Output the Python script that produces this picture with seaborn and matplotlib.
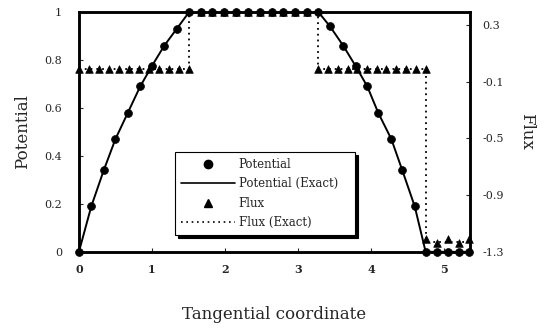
import numpy as np
import matplotlib
matplotlib.use('Agg')
import matplotlib.pyplot as plt
from matplotlib.lines import Line2D
import seaborn as sns

# potential nodes (tangential coordinate, value)
pot_x = [0.0, 0.17, 0.34, 0.50, 0.67, 0.84, 1.00, 1.17, 1.34, 1.51,
         1.67, 1.83, 1.99, 2.15, 2.31, 2.48, 2.64, 2.80, 2.96, 3.12, 3.28,
         3.44, 3.62, 3.79, 3.95, 4.10, 4.28, 4.43, 4.60, 4.75,
         4.90, 5.06, 5.21, 5.35]
pot_y = [0.0, 0.19, 0.34, 0.47, 0.58, 0.69, 0.775, 0.86, 0.93, 1.0,
         1.0, 1.0, 1.0, 1.0, 1.0, 1.0, 1.0, 1.0, 1.0, 1.0, 1.0,
         0.94, 0.86, 0.775, 0.69, 0.58, 0.47, 0.34, 0.19, 0.0,
         0.0, 0.0, 0.0, 0.0]

# flux nodes
flux_x = [0.0, 0.14, 0.27, 0.41, 0.55, 0.69, 0.82, 0.96, 1.10, 1.24, 1.37, 1.51,
          1.67, 1.83, 1.99, 2.15, 2.31, 2.48, 2.64, 2.80, 2.96, 3.12,
          3.28, 3.41, 3.55, 3.68, 3.81, 3.95, 4.08, 4.21, 4.35, 4.48, 4.62, 4.75,
          4.76, 4.90, 5.05, 5.20, 5.35]
flux_y = [-0.01] * 12 + [0.39] * 10 + [-0.01] * 12 + [-1.21, -1.24, -1.21, -1.24, -1.21]

# exact flux (piecewise constant)
flux_ex_x = [0.0, 1.51, 1.51, 3.28, 3.28, 4.75, 4.75, 5.36]
flux_ex_y = [-0.01, -0.01, 0.39, 0.39, -0.01, -0.01, -1.23, -1.23]

pot_ticks = [0, 0.2, 0.4, 0.6, 0.8, 1.0]
pot_labels = ['0', '0.2', '0.4', '0.6', '0.8', '1']
flux_ticks = [-1.3, -0.9, -0.5, -0.1, 0.3]
x_ticks = [0, 1, 2, 3, 4, 5]

sns.set_style('ticks')
plt.rcParams['font.family'] = ['DejaVu Serif']

fig = plt.figure(figsize=(5.48, 3.34), dpi=100)
ax = fig.add_axes([0.144, 0.246, 0.714, 0.718])
ax2 = ax.twinx()

# potential
sns.lineplot(x=pot_x, y=pot_y, ax=ax, color='black', lw=1.4,
             estimator=None, sort=False)
sns.scatterplot(x=pot_x, y=pot_y, ax=ax, marker='o', s=32, color='black',
                edgecolor='black', linewidth=0.5, clip_on=False, zorder=5)

# flux
sns.lineplot(x=flux_ex_x, y=flux_ex_y, ax=ax2, color='black', lw=1.3,
             linestyle=(0, (1, 2.2)), estimator=None, sort=False)
sns.scatterplot(x=flux_x, y=flux_y, ax=ax2, marker='^', s=30, color='black',
                edgecolor='black', linewidth=0.5, clip_on=False, zorder=5)

ax.set_xlim(0, 5.36)
ax.set_ylim(0, 1)
ax2.set_ylim(-1.3, 0.39)

ax.set_xticks(x_ticks)
ax.set_xticklabels([str(t) for t in x_ticks], fontsize=8, fontweight='bold')
ax.set_yticks(pot_ticks)
ax.set_yticklabels(pot_labels, fontsize=8)
ax2.set_yticks(flux_ticks)
ax2.set_yticklabels([f'{t:.1f}' for t in flux_ticks], fontsize=8)

ax.tick_params(axis='both', direction='in', length=3, width=0.8, pad=12)
ax.tick_params(axis='x', pad=9)
ax2.tick_params(axis='y', direction='in', length=3, width=0.8, pad=9)

for a in (ax, ax2):
    for sp in a.spines.values():
        sp.set_linewidth(1.8)
        sp.set_color('black')

ax.set_xlabel('Tangential coordinate', fontsize=12, labelpad=22)
ax.set_ylabel('Potential', fontsize=12, labelpad=10)
ax2.set_ylabel('Flux', fontsize=12, rotation=270, labelpad=22)

handles = [
    Line2D([], [], marker='o', color='black', linestyle='none', markersize=6),
    Line2D([], [], color='black', lw=1.2),
    Line2D([], [], marker='^', color='black', linestyle='none', markersize=6),
    Line2D([], [], color='black', lw=1.2, linestyle=(0, (1, 2.2))),
]
labels = ['Potential', 'Potential (Exact)', 'Flux', 'Flux (Exact)']
leg = ax2.legend(handles, labels, loc='lower left',
                 bbox_to_anchor=(0.245, 0.07, 0.46, 0.33), mode='expand',
                 fontsize=8.5, frameon=True, fancybox=False,
                 shadow={'color': 'black', 'alpha': 1.0, 'shade': 0},
                 handlelength=4.6, handletextpad=0.3, borderpad=0.5,
                 labelspacing=0.55, borderaxespad=0)
leg.get_frame().set_edgecolor('black')
leg.get_frame().set_linewidth(0.8)

fig.savefig('out.png', dpi=100)
